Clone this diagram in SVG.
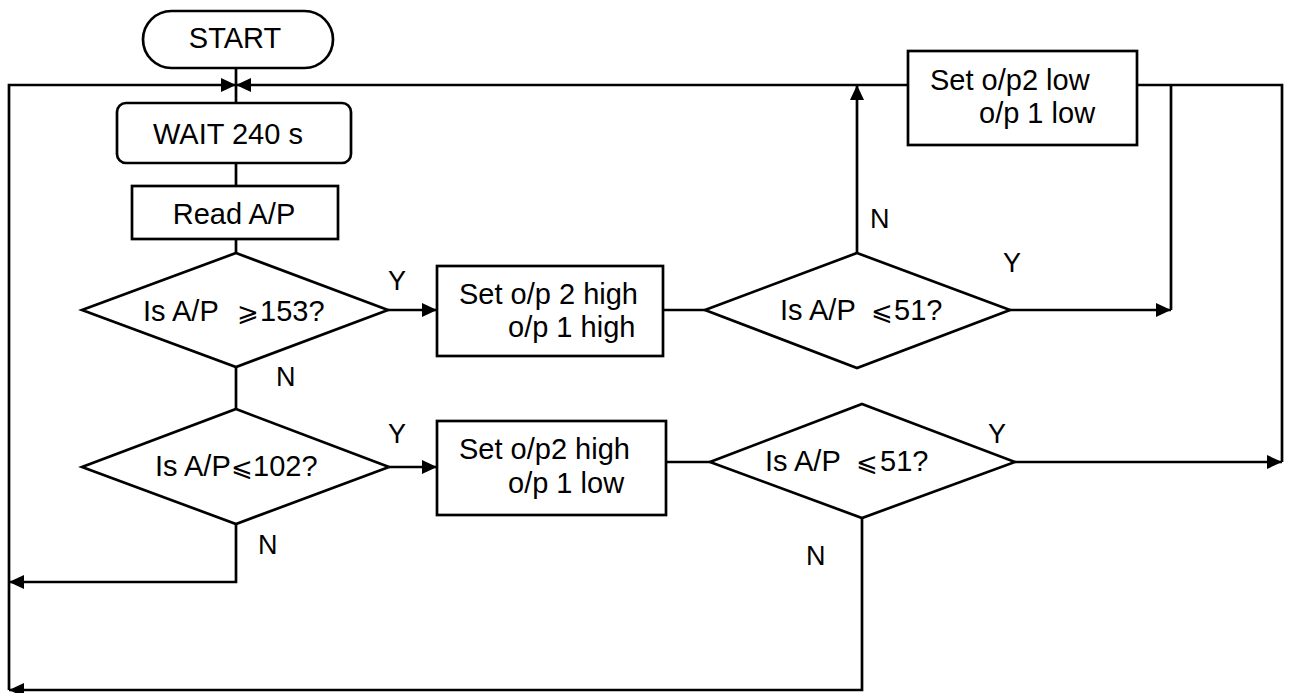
<svg xmlns="http://www.w3.org/2000/svg" width="1290" height="693" viewBox="0 0 1290 693">
<defs>
<marker id="ah" markerUnits="userSpaceOnUse" markerWidth="16" markerHeight="14" refX="15" refY="7" orient="auto">
<path d="M0,0 L15,7 L0,14 Z" fill="#000"/>
</marker>
<style>
.s{fill:#fff;stroke:#000;stroke-width:2.7}
.c{fill:none;stroke:#000;stroke-width:2.7}
text{font-family:"Liberation Sans",Arial,sans-serif;font-size:29px;fill:#000}
.m{font-family:"DejaVu Sans",sans-serif;font-size:26px}
.l{font-size:27px}
</style>
</defs>
<rect width="1290" height="693" fill="#fff"/>
<g id="connectors">
<path class="c" d="M236,68 V103"/>
<path class="c" d="M9,690 V85 H236" marker-end="url(#ah)"/>
<path class="c" d="M908,85 H236" marker-end="url(#ah)"/>
<path class="c" d="M236,163 V186"/>
<path class="c" d="M236,239 V253"/>
<path class="c" d="M388,310 H437" marker-end="url(#ah)"/>
<path class="c" d="M663,310 H705"/>
<path class="c" d="M857,253 V85" marker-end="url(#ah)"/>
<path class="c" d="M1010,310 H1171" marker-end="url(#ah)"/>
<path class="c" d="M1171,310 V85"/>
<path class="c" d="M1137,85 H1282 V462"/>
<path class="c" d="M236,367 V409"/>
<path class="c" d="M389,467 H437" marker-end="url(#ah)"/>
<path class="c" d="M236,524 V582 H9" marker-end="url(#ah)"/>
<path class="c" d="M666,462 H710"/>
<path class="c" d="M1015,462 H1282" marker-end="url(#ah)"/>
<path class="c" d="M862,518 V690 H9" marker-end="url(#ah)"/>
<text class="l" x="388" y="290">Y</text>
<text class="l" x="276" y="386">N</text>
<text class="l" x="870" y="228">N</text>
<text class="l" x="1003" y="272">Y</text>
<text class="l" x="388" y="443">Y</text>
<text class="l" x="258" y="554">N</text>
<text class="l" x="988" y="443">Y</text>
<text class="l" x="806" y="565">N</text>
</g>
<g id="start">
<rect class="s" x="143" y="11" width="190" height="57" rx="28.5"/>
<text x="235" y="48" text-anchor="middle">START</text>
</g>
<g id="wait">
<rect class="s" x="117" y="103" width="234" height="60" rx="9"/>
<text x="228" y="144" text-anchor="middle">WAIT 240 s</text>
</g>
<g id="read">
<rect class="s" x="132" y="186" width="206" height="53"/>
<text x="234" y="224" text-anchor="middle">Read A/P</text>
</g>
<g id="dec1">
<polygon class="s" points="236,253 388,310 236,367 82,310"/>
<text y="321"><tspan x="143">Is A/P</tspan><tspan class="m" x="237">⩾</tspan><tspan x="260">153?</tspan></text>
</g>
<g id="set-high-high">
<rect class="s" x="437" y="266" width="226" height="90"/>
<text x="459" y="304">Set o/p 2 high</text>
<text x="508" y="337">o/p 1 high</text>
</g>
<g id="dec2">
<polygon class="s" points="857,253 1010,310 857,368 705,310"/>
<text y="320"><tspan x="780">Is A/P</tspan><tspan class="m" x="871">⩽</tspan><tspan x="894">51?</tspan></text>
</g>
<g id="set-low-low">
<rect class="s" x="908" y="51" width="229" height="94"/>
<text x="930" y="90">Set o/p2 low</text>
<text x="979" y="123">o/p 1 low</text>
</g>
<g id="dec3">
<polygon class="s" points="236,409 389,467 236,524 82,467"/>
<text y="476"><tspan x="155">Is A/P</tspan><tspan class="m" x="231">⩽</tspan><tspan x="253">102?</tspan></text>
</g>
<g id="set-high-low">
<rect class="s" x="437" y="421" width="229" height="94"/>
<text x="459" y="459">Set o/p2 high</text>
<text x="508" y="493">o/p 1 low</text>
</g>
<g id="dec4">
<polygon class="s" points="862,404 1015,462 862,518 710,462"/>
<text y="471"><tspan x="765">Is A/P</tspan><tspan class="m" x="856">⩽</tspan><tspan x="880">51?</tspan></text>
</g>
</svg>
